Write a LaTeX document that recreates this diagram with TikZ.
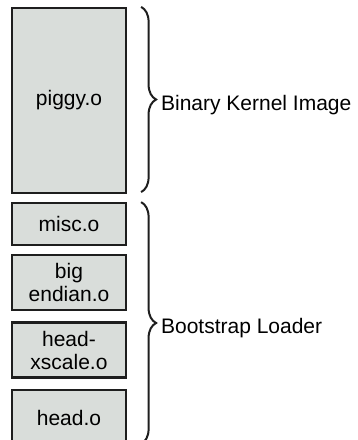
\documentclass[tikz,border=0pt]{standalone}
\usepackage{fontspec}
\setmainfont{Liberation Sans}
\usetikzlibrary{positioning,decorations.pathreplacing}
\definecolor{objgray}{RGB}{217,221,218}
\definecolor{edgegray}{RGB}{30,30,30}

\begin{document}
\begin{tikzpicture}[x=1pt,y=1pt,
    objbox/.style={draw=edgegray, fill=objgray, line width=2.2pt,
      minimum width=114pt, align=center, inner sep=0pt,
      font=\fontsize{21}{23}\selectfont},
    part/.style={draw=edgegray, line width=2pt,
      decorate, decoration={brace, amplitude=15pt}},
    partlabel/.style={anchor=base west, inner sep=0pt,
      xshift=19pt, yshift=-11pt,
      font=\fontsize{21}{23}\selectfont}]
  \useasboundingbox (0,0) rectangle (357,440);
  % object files, top to bottom
  \node[objbox, minimum height=185pt] (piggy) at (69,339.5) {piggy.o};
  \node[objbox, minimum height=42pt, below=8pt of piggy] (misc) {misc.o};
  \node[objbox, minimum height=55pt, below=8pt of misc] (bigend) {big\\endian.o};
  \node[objbox, minimum height=55pt, below=10pt of bigend] (xscale) {head-\\xscale.o};
  \node[objbox, minimum height=56pt, below=10pt of xscale] (head) {head.o};
  % braces
  \coordinate (kerntop) at ([xshift=14pt]piggy.north east);
  \coordinate (kernbot) at ([xshift=14pt,yshift=2pt]piggy.south east);
  \coordinate (boottop) at ([xshift=14pt]misc.north east);
  \coordinate (bootbot) at ([xshift=14pt,yshift=3pt]head.south east);
  \draw[part] (kerntop) -- node[partlabel] (kernlabel) {Binary Kernel Image} (kernbot);
  \draw[part] (boottop) -- node[partlabel] (bootlabel) {Bootstrap Loader} (bootbot);
\end{tikzpicture}
\end{document}
